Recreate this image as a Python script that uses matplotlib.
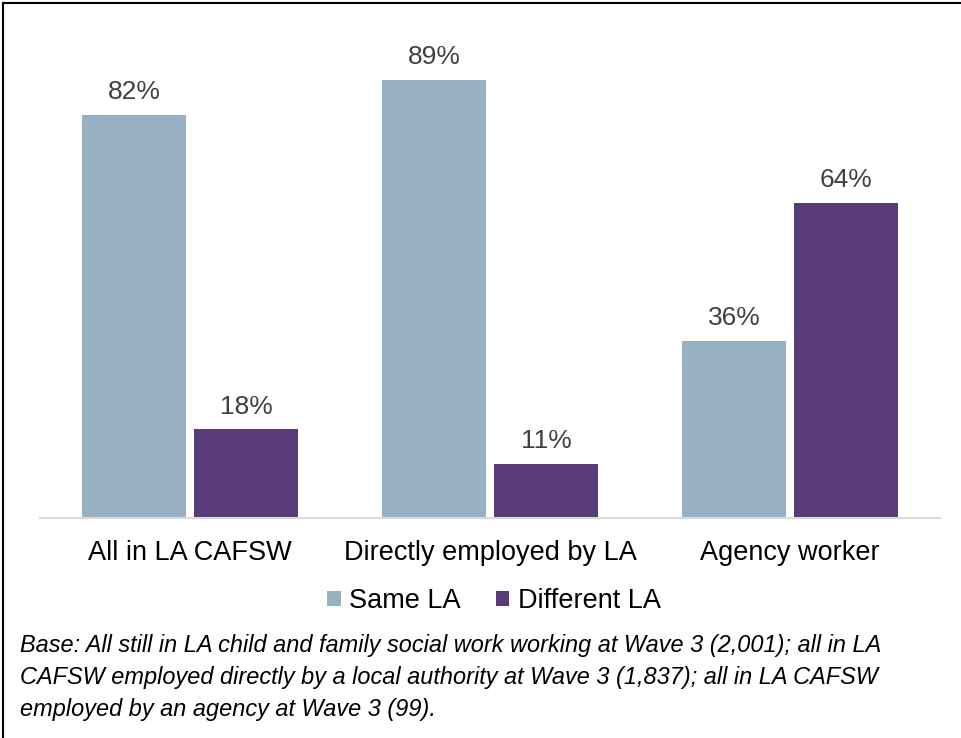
import numpy as np
import matplotlib.pyplot as plt

plt.rcParams['font.family'] = ['Liberation Sans', 'DejaVu Sans']

# Data
categories = ['All in LA CAFSW', 'Directly employed by LA', 'Agency worker']
series_names = ['Same LA', 'Different LA']
same_la = [82, 89, 36]
different_la = [18, 11, 64]
colors = ['#97b1c3', '#593a7a']

footnote = ('Base: All still in LA child and family social work working at Wave 3 (2,001); all in LA\n'
            'CAFSW employed directly by a local authority at Wave 3 (1,837); all in LA CAFSW\n'
            'employed by an agency at Wave 3 (99).')

W, H = 962, 738
fig = plt.figure(figsize=(W / 100, H / 100), dpi=100)
ax = fig.add_axes([40 / W, (H - 518) / H, 900 / W, 492 / H])

x = np.arange(len(categories))
bw = 104 / 300
gap = 8 / 300
off = (bw + gap) / 2

for vals, name, col, sgn in [(same_la, series_names[0], colors[0], -1),
                             (different_la, series_names[1], colors[1], 1)]:
    bars = ax.bar(x + sgn * off, vals, width=bw, color=col, label=name)
    for b, v in zip(bars, vals):
        ax.text(b.get_x() + b.get_width() / 2, v + 2.2, f'{v}%',
                ha='center', va='bottom', fontsize=19, color='#404040')

ax.set_xlim(-0.5, 2.5)
ax.set_ylim(0, 100)
ax.set_yticks([])
ax.set_xticks(x)
ax.set_xticklabels(categories, fontsize=19.5, color='black')
ax.tick_params(axis='x', length=0, pad=16)
for s in ['top', 'right', 'left']:
    ax.spines[s].set_visible(False)
ax.spines['bottom'].set_color('#d9d9d9')
ax.spines['bottom'].set_linewidth(1.5)

leg = fig.legend(loc='center', bbox_to_anchor=(494 / W, 1 - 601 / H), ncol=2,
                 frameon=False, fontsize=19.5, handlelength=0.5, handleheight=0.5,
                 handletextpad=0.3, columnspacing=1.3)

fig.text(20 / W, 1 - 634 / H, footnote, ha='left', va='top', fontsize=16.9,
         style='italic', color='black', linespacing=1.5)

# frame lines on left and top
fig.add_artist(plt.Line2D([3 / W, 3 / W], [0, 1 - 3 / H], color='black', lw=1.5))
fig.add_artist(plt.Line2D([3 / W, 1], [1 - 3 / H, 1 - 3 / H], color='black', lw=1.5))

fig.savefig('out.png', dpi=100)
